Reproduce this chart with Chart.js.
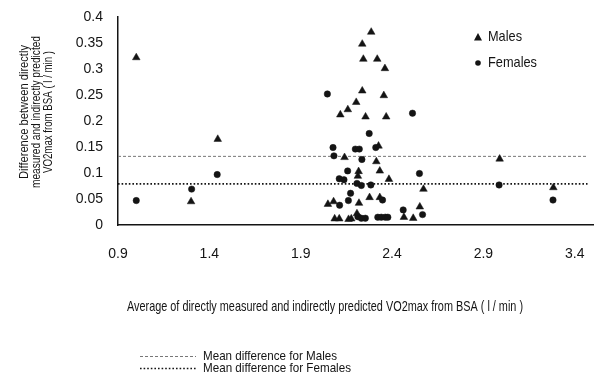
<!DOCTYPE html>
<html>
<head>
<meta charset="utf-8">
<script src="https://cdn.jsdelivr.net/npm/chart.js@4.4.1/dist/chart.umd.min.js"></script>
<style>
  html, body { margin: 0; padding: 0; background: #fff; }
  #wrap { width: 612px; height: 379px; }
</style>
</head>
<body>
<div id="wrap"><canvas id="chart" width="612" height="379"></canvas></div>
<script>
// tick values and labels
const xTicks = [0.9, 1.4, 1.9, 2.4, 2.9, 3.4]
const yTicks = [0, 0.05, 0.1, 0.15, 0.2, 0.25, 0.3, 0.35, 0.4]
const yTickLabels = ['0', '0.05', '0.1', '0.15', '0.2', '0.25', '0.3', '0.35', '0.4']

// Males (triangles)
const malesX = [1.00, 1.30, 1.446, 2.286, 2.237, 2.243, 2.319, 2.361, 2.237, 2.355,
  2.204, 2.158, 2.117, 2.255, 2.368, 2.326, 2.140, 2.314, 2.217, 2.333,
  2.213, 2.383, 2.572, 2.277, 2.333, 2.049, 2.080, 2.219, 2.552, 2.086,
  2.111, 2.162, 2.177, 2.208, 2.465, 2.516, 2.989, 3.283]
const malesY = [0.322, 0.045, 0.165, 0.371, 0.348, 0.319, 0.319, 0.301, 0.258, 0.249,
  0.236, 0.222, 0.212, 0.208, 0.208, 0.152, 0.130, 0.122, 0.103, 0.104,
  0.094, 0.088, 0.069, 0.053, 0.053, 0.040, 0.045, 0.042, 0.035, 0.012,
  0.012, 0.011, 0.012, 0.022, 0.015, 0.013, 0.127, 0.072]

// Females (circles)
const femalesX = [1.00, 1.303, 1.443, 2.046, 2.512, 2.275, 2.077, 2.199, 2.221, 2.311,
  2.082, 2.235, 2.157, 2.550, 2.111, 2.137, 2.208, 2.232, 2.284, 2.173,
  2.161, 2.348, 2.113, 2.213, 2.232, 2.254, 2.322, 2.341, 2.363, 2.377,
  2.461, 2.567, 2.986, 3.281]
const femalesY = [0.047, 0.069, 0.097, 0.252, 0.215, 0.176, 0.149, 0.146, 0.146, 0.149,
  0.133, 0.126, 0.104, 0.099, 0.089, 0.087, 0.080, 0.076, 0.077, 0.061,
  0.047, 0.048, 0.038, 0.016, 0.013, 0.013, 0.015, 0.015, 0.015, 0.015,
  0.029, 0.020, 0.077, 0.048]

// mean differences
const meanMales = 0.132
const meanFemales = 0.079
const meanLineX = [0.9, 3.47]

const xTitle = 'Average of directly measured and indirectly predicted VO2max from BSA ( l / min )'
const yTitle = ['Difference between directly', 'measured and indirectly predicted', 'VO2max from BSA ( l / min )']

const narrow = "'Liberation Sans Narrow', 'Liberation Sans', Arial, sans-serif"
const ink = '#141414'

const toPoints = (xs, ys) => xs.map((x, i) => ({ x: x, y: ys[i] }))

// draw text squeezed to a given width
function fitText(ctx, text, x, y, w, font, align) {
  ctx.font = font
  const s = w / ctx.measureText(text).width
  ctx.save()
  ctx.translate(x, y)
  ctx.scale(s, 1)
  ctx.textAlign = align
  ctx.textBaseline = 'middle'
  ctx.fillText(text, 0, 0)
  ctx.restore()
}

const textPlugin = {
  id: 'texts',
  afterDraw(chart) {
    const ctx = chart.ctx
    ctx.save()
    ctx.fillStyle = ink

    // y axis title, rotated
    const yCenters = [25, 37, 49]
    const yWidths = [134, 152, 122]
    yTitle.forEach((line, i) => {
      ctx.save()
      ctx.translate(yCenters[i], 112)
      ctx.rotate(-Math.PI / 2)
      fitText(ctx, line, 0, 0, yWidths[i], '12px ' + narrow, 'center')
      ctx.restore()
    })

    // x axis title
    fitText(ctx, xTitle, 325, 307, 396, '15px ' + narrow, 'center')

    // top right legend
    ctx.beginPath()
    ctx.moveTo(478, 33); ctx.lineTo(482, 40.5); ctx.lineTo(474, 40.5); ctx.closePath()
    ctx.fill()
    ctx.beginPath()
    ctx.arc(478, 63, 2.8, 0, Math.PI * 2)
    ctx.fill()
    fitText(ctx, 'Males', 488, 37, 34, '15px ' + narrow, 'left')
    fitText(ctx, 'Females', 488, 63, 49, '15px ' + narrow, 'left')

    // bottom legend
    ctx.lineWidth = 1
    ctx.strokeStyle = '#777'
    ctx.setLineDash([3, 2])
    ctx.beginPath(); ctx.moveTo(140, 356.5); ctx.lineTo(196, 356.5); ctx.stroke()
    ctx.strokeStyle = ink
    ctx.lineWidth = 1.6
    ctx.setLineDash([1.6, 2])
    ctx.beginPath(); ctx.moveTo(140, 368.5); ctx.lineTo(196, 368.5); ctx.stroke()
    ctx.setLineDash([])
    fitText(ctx, 'Mean difference for Males', 203, 356, 134, '13px ' + narrow, 'left')
    fitText(ctx, 'Mean difference for Females', 203, 368, 148, '13px ' + narrow, 'left')
    ctx.restore()
  }
}

const config = {
  type: 'scatter',
  data: {
    datasets: [
      {
        label: 'Males',
        data: toPoints(malesX, malesY),
        pointStyle: 'triangle',
        pointRadius: 4.4,
        backgroundColor: ink,
        borderColor: ink,
        borderWidth: 0.5,
      },
      {
        label: 'Females',
        data: toPoints(femalesX, femalesY),
        pointStyle: 'circle',
        pointRadius: 3.2,
        backgroundColor: ink,
        borderColor: ink,
        borderWidth: 0.5,
      },
      {
        type: 'line',
        label: 'Mean difference for Males',
        data: meanLineX.map(x => ({ x: x, y: meanMales })),
        borderColor: '#777',
        borderWidth: 1,
        borderDash: [3, 2],
        pointRadius: 0,
        fill: false,
      },
      {
        type: 'line',
        label: 'Mean difference for Females',
        data: meanLineX.map(x => ({ x: x, y: meanFemales })),
        borderColor: ink,
        borderWidth: 1.6,
        borderDash: [1.6, 2],
        pointRadius: 0,
        fill: false,
      },
    ]
  },
  options: {
    responsive: false,
    animation: false,
    layout: { padding: { left: 0, right: 19, top: 17, bottom: 0 } },
    plugins: {
      legend: { display: false },
      tooltip: { enabled: false },
    },
    scales: {
      x: {
        type: 'linear',
        min: 0.9,
        max: 3.5,
        afterBuildTicks: (scale) => { scale.ticks = xTicks.map(v => ({ value: v })) },
        afterFit: (scale) => {
          scale.height = 154
          scale.paddingLeft = 0
          scale.paddingRight = 0
        },
        grid: { display: false, drawTicks: false },
        border: { display: true, color: ink, width: 1.5 },
        ticks: {
          padding: 21,
          color: ink,
          font: { family: narrow, size: 14 },
          maxRotation: 0,
          callback: (v) => String(v),
        },
      },
      y: {
        type: 'linear',
        min: 0,
        max: 0.4,
        afterBuildTicks: (scale) => { scale.ticks = yTicks.map(v => ({ value: v })) },
        afterFit: (scale) => {
          scale.width = 118
          scale.paddingTop = 0
          scale.paddingBottom = 0
        },
        grid: { display: false, drawTicks: false },
        border: { display: true, color: ink, width: 1.5 },
        ticks: {
          padding: 15,
          color: ink,
          font: { family: narrow, size: 14 },
          callback: (v, i) => yTickLabels[i],
        },
      },
    }
  },
  plugins: [textPlugin],
}

new Chart(document.getElementById('chart').getContext('2d'), config)
</script>
</body>
</html>
